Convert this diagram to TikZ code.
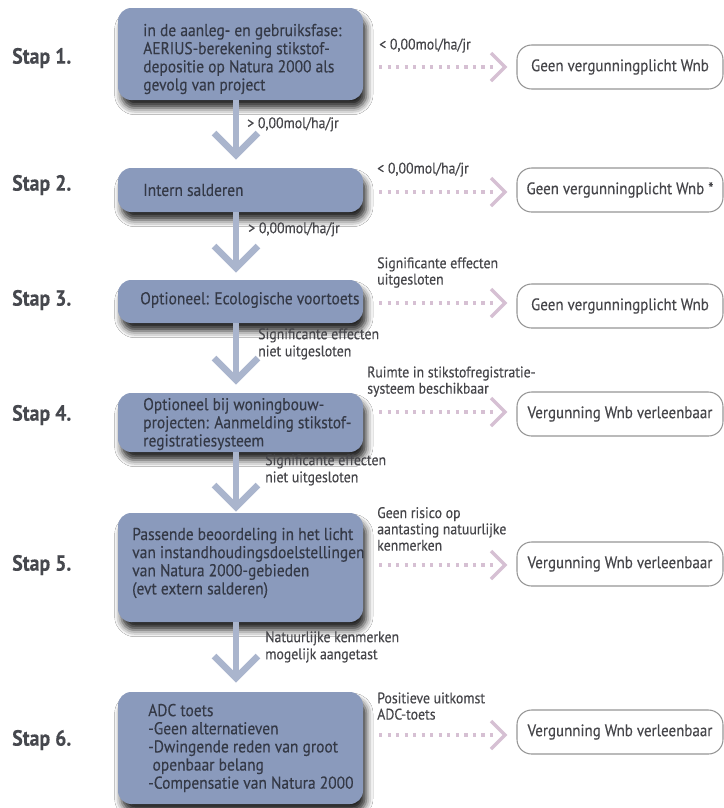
\documentclass[tikz,border=0pt]{standalone}
\usepackage{fontspec}
\setmainfont{PT Sans}[FakeStretch=0.9, FakeBold=0.3]
\usetikzlibrary{shadows.blur}
\definecolor{boxblue}{RGB}{138,154,188}
\definecolor{boxtxt}{RGB}{52,57,70}
\definecolor{arrblue}{RGB}{170,181,205}
\definecolor{dotpink}{RGB}{214,192,211}
\definecolor{lbl}{RGB}{70,70,74}
\definecolor{outline}{RGB}{150,150,150}
\definecolor{staptxt}{RGB}{70,72,78}
\begin{document}
\begin{tikzpicture}[x=0.75pt,y=-0.75pt,
  stepbox/.style={rectangle, rounded corners=10pt, fill=boxblue, minimum width=183.75pt, inner sep=0pt,
    blur shadow={shadow xshift=2.5pt, shadow yshift=-6pt, shadow blur radius=5pt, shadow opacity=85}},
  boxtext/.style={anchor=west, align=left, inner sep=0pt, text=boxtxt, font=\fontsize{12.9}{13.6}\selectfont},
  outbox/.style={rectangle, rounded corners=11pt, draw=outline, line width=0.8pt, fill=white,
    minimum width=154.5pt, minimum height=33pt, inner sep=0pt, text=lbl, font=\fontsize{12.5}{13.5}\selectfont},
  staplbl/.style={anchor=west, inner sep=0pt, text=staptxt, font=\fontsize{16.5}{18}\selectfont\bfseries},
  sidelbl/.style={anchor=south west, align=left, inner sep=0pt, text=lbl, font=\fontsize{11.5}{12.2}\selectfont},
  downlbl/.style={anchor=north west, align=left, inner sep=0pt, text=lbl, font=\fontsize{11.5}{12.8}\selectfont},
  downline/.style={draw=arrblue, line width=5pt, miter limit=10},
  dotline/.style={draw=dotpink, line width=2.4pt, dash pattern=on 2.4pt off 4pt},
  chev/.style={draw=dotpink, line width=2.6pt}
]
\useasboundingbox[fill=white] (0,0) rectangle (724,808);

% Stap labels
\node[staplbl] (s1) at (12,58) {Stap 1.};
\node[staplbl] (s2) at (12,185) {Stap 2.};
\node[staplbl] (s3) at (12,300) {Stap 3.};
\node[staplbl] (s4) at (12,415) {Stap 4.};
\node[staplbl] (s5) at (12,565) {Stap 5.};
\node[staplbl] (s6) at (12,740) {Stap 6.};

% step boxes
\node[stepbox, minimum height=69pt] (b1) at (240.5,54) {};
\node[stepbox, minimum height=33pt] (b2) at (240.5,190) {};
\node[stepbox, minimum height=32.25pt] (b3) at (240.5,301.5) {};
\node[stepbox, minimum height=44.25pt] (b4) at (240.5,422.5) {};
\node[stepbox, minimum height=81.75pt] (b5) at (240.5,567.5) {};
\node[stepbox, minimum height=84pt] (b6) at (240.5,748) {};

\node[boxtext] (b1t) at (143,59) {in de aanleg- en gebruiksfase:\\AERIUS-berekening stikstof-\\depositie op Natura 2000 als\\gevolg van project};
\node[boxtext] (b2t) at (143,190) {Intern salderen};
\node[boxtext] (b3t) at (140,300) {Optioneel: Ecologische voortoets};
\node[boxtext] (b4t) at (143,424) {Optioneel bij woningbouw-\\projecten: Aanmelding stikstof-\\registratiesysteem};
\node[boxtext] (b5t) at (132,563) {Passende beoordeling in het licht\\van instandhoudingsdoelstellingen\\van Natura 2000-gebieden\\(evt extern salderen)};
\node[boxtext] (b6t) at (148,748) {ADC toets\\-Geen alternatieven\\-Dwingende reden van groot\\\hspace*{0.25em}openbaar belang\\-Compensatie van Natura 2000};

% down arrows
\coordinate (t1) at (236,155);
\coordinate (t2) at (236,268);
\coordinate (t3) at (236,380);
\coordinate (t4) at (236,507);
\coordinate (t5) at (236,678);
\foreach \b/\t in {b1/t1,b2/t2,b3/t3,b4/t4,b5/t5}{
  \draw[downline] (\b.south -| \t) -- (\t);
  \draw[downline] (\t) ++(-22,-22) -- (\t) -- ++(22,-22);
}

\node[downlbl] (l1) at (247,117) {> 0,00mol/ha/jr};
\node[downlbl] (l2) at (248,222) {> 0,00mol/ha/jr};
\node[downlbl] (l3) at (258,328) {Significante effecten\\niet uitgesloten};
\node[downlbl] (l4) at (265,454) {Significante effecten\\niet uitgesloten};
\node[downlbl] (l5) at (265,631) {Natuurlijke kenmerken\\mogelijk aangetast};

% outcome boxes
\node[outbox] (o1) at (620,67) {Geen vergunningplicht Wnb};
\node[outbox] (o2) at (620,190) {Geen vergunningplicht Wnb *};
\node[outbox] (o3) at (620,306) {Geen vergunningplicht Wnb};
\node[outbox] (o4) at (620,414) {Vergunning Wnb verleenbaar};
\node[outbox] (o5) at (620,564) {Vergunning Wnb verleenbaar};
\node[outbox] (o6) at (620,732) {Vergunning Wnb verleenbaar};

% side connectors
\foreach \b/\o/\y in {b1/o1/67,b2/o2/192,b3/o3/303,b4/o4/412,b5/o5/565,b6/o6/735}{
  \coordinate (st\o) at (379,\y);
  \coordinate (tip\o) at (505,\y);
  \draw[dotline] (st\o) -- (497,\y);
  \draw[chev] (tip\o) ++(-14,-14) -- (tip\o) -- ++(-14,14);
}

\node[sidelbl] (r1) at (379,53) {< 0,00mol/ha/jr};
\node[sidelbl] (r2) at (377,177) {< 0,00mol/ha/jr};
\node[sidelbl] (r3) at (377,288) {Significante effecten\\uitgesloten};
\node[sidelbl] (r4) at (367,397) {Ruimte in stikstofregistratie-\\systeem beschikbaar};
\node[sidelbl] (r5) at (377,551) {Geen risico op\\aantasting natuurlijke\\kenmerken};
\node[sidelbl] (r6) at (377,720) {Positieve uitkomst\\ADC-toets};
\end{tikzpicture}
\end{document}
